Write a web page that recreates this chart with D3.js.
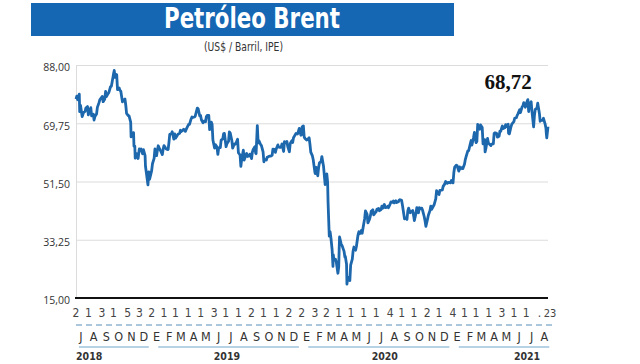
<!DOCTYPE html>
<html><head><meta charset="utf-8">
<script src="https://cdn.jsdelivr.net/npm/d3@7"></script>
<style>
html,body{margin:0;padding:0;background:#fff;}
svg{display:block;}
.cond{font-family:"Liberation Sans Narrow","DejaVu Sans Condensed","Roboto",sans-serif;font-stretch:condensed;}
</style></head>
<body><svg id="c" width="640" height="364"></svg>
<script>
// ---------- DATA ----------
const title = "Petróleo Brent";
const subtitle = "(US$ / Barril, IPE)";
const lastLabel = "68,72";
const yTicks = [15, 33.25, 51.5, 69.75, 88];
const monthLettersEs = ["E","F","M","A","M","J","J","A","S","O","N","D"];
const monthStartDates = [
 "2018-07-02","2018-08-01","2018-09-03","2018-10-01","2018-11-05","2018-12-03",
 "2019-01-02","2019-02-01","2019-03-01","2019-04-01","2019-05-01","2019-06-03",
 "2019-07-01","2019-08-01","2019-09-02","2019-10-01","2019-11-01","2019-12-02",
 "2020-01-02","2020-02-03","2020-03-02","2020-04-01","2020-05-01","2020-06-01",
 "2020-07-01","2020-08-04","2020-09-01","2020-10-01","2020-11-02","2020-12-01",
 "2021-01-04","2021-02-01","2021-03-01","2021-04-01","2021-05-03","2021-06-01",
 "2021-07-01","2021-08-02"];
const dayLabels = ["2","1","3","1","5","3","2","1","1","1","1","3","1","1","2","1","1","2",
 "2","3","2","1","1","1","1","4","1","1","2","1","4","1","1","1","3","1","1","."];
const endDayLabel = "23";
const years = ["2018","2019","2020","2021"];
const yearLabelDates = ["2018-07-02","2019-07-04","2020-07-22","2021-07-03"];
const yearLabelAnchors = ["start","middle","middle","middle"];

const dates = [
"2018-07-02","2018-07-04","2018-07-06","2018-07-10","2018-07-11","2018-07-13","2018-07-17","2018-07-19","2018-07-20","2018-07-24","2018-07-26","2018-07-30",
"2018-08-01","2018-08-03","2018-08-07","2018-08-09","2018-08-13","2018-08-15","2018-08-17","2018-08-21","2018-08-23","2018-08-27","2018-08-29","2018-08-31",
"2018-09-04","2018-09-06","2018-09-10","2018-09-12","2018-09-14","2018-09-18","2018-09-20","2018-09-24","2018-09-26","2018-09-28",
"2018-10-01","2018-10-03","2018-10-05","2018-10-09","2018-10-11","2018-10-15","2018-10-17","2018-10-19","2018-10-23","2018-10-25","2018-10-29","2018-10-31",
"2018-11-02","2018-11-06","2018-11-08","2018-11-12","2018-11-13","2018-11-15","2018-11-19","2018-11-20","2018-11-22","2018-11-23","2018-11-27","2018-11-29","2018-11-30",
"2018-12-03","2018-12-05","2018-12-07","2018-12-11","2018-12-13","2018-12-17","2018-12-18","2018-12-20","2018-12-24","2018-12-26","2018-12-28","2018-12-31",
"2019-01-02","2019-01-04","2019-01-08","2019-01-10","2019-01-14","2019-01-16","2019-01-18","2019-01-22","2019-01-24","2019-01-28","2019-01-30",
"2019-02-01","2019-02-05","2019-02-07","2019-02-11","2019-02-13","2019-02-15","2019-02-19","2019-02-21","2019-02-25","2019-02-27",
"2019-03-01","2019-03-05","2019-03-07","2019-03-11","2019-03-13","2019-03-15","2019-03-19","2019-03-21","2019-03-25","2019-03-27","2019-03-29",
"2019-04-02","2019-04-04","2019-04-08","2019-04-10","2019-04-12","2019-04-16","2019-04-18","2019-04-23","2019-04-25","2019-04-29",
"2019-05-01","2019-05-03","2019-05-07","2019-05-09","2019-05-13","2019-05-15","2019-05-17","2019-05-21","2019-05-23","2019-05-27","2019-05-29","2019-05-31",
"2019-06-04","2019-06-06","2019-06-10","2019-06-12","2019-06-14","2019-06-18","2019-06-20","2019-06-24","2019-06-26","2019-06-28",
"2019-07-02","2019-07-04","2019-07-08","2019-07-10","2019-07-12","2019-07-16","2019-07-18","2019-07-22","2019-07-24","2019-07-26","2019-07-30",
"2019-08-01","2019-08-05","2019-08-07","2019-08-09","2019-08-13","2019-08-15","2019-08-19","2019-08-21","2019-08-23","2019-08-27","2019-08-29",
"2019-09-02","2019-09-04","2019-09-06","2019-09-10","2019-09-12","2019-09-13","2019-09-16","2019-09-18","2019-09-20","2019-09-24","2019-09-26","2019-09-30",
"2019-10-02","2019-10-04","2019-10-08","2019-10-10","2019-10-14","2019-10-16","2019-10-18","2019-10-22","2019-10-24","2019-10-28","2019-10-30",
"2019-11-01","2019-11-05","2019-11-07","2019-11-11","2019-11-13","2019-11-15","2019-11-19","2019-11-21","2019-11-25","2019-11-27","2019-11-29",
"2019-12-03","2019-12-05","2019-12-09","2019-12-11","2019-12-13","2019-12-17","2019-12-19","2019-12-23","2019-12-27","2019-12-31",
"2020-01-02","2020-01-03","2020-01-06","2020-01-08","2020-01-10","2020-01-14","2020-01-16","2020-01-20","2020-01-22","2020-01-24","2020-01-28","2020-01-30",
"2020-02-03","2020-02-04","2020-02-06","2020-02-10","2020-02-12","2020-02-14","2020-02-18","2020-02-20","2020-02-24","2020-02-26","2020-02-28",
"2020-03-03","2020-03-05","2020-03-06","2020-03-09","2020-03-11","2020-03-13","2020-03-16","2020-03-18","2020-03-19","2020-03-20","2020-03-24","2020-03-26","2020-03-30",
"2020-04-01","2020-04-02","2020-04-03","2020-04-07","2020-04-09","2020-04-14","2020-04-16","2020-04-17","2020-04-20","2020-04-21","2020-04-22","2020-04-24","2020-04-28","2020-04-30",
"2020-05-04","2020-05-06","2020-05-08","2020-05-12","2020-05-14","2020-05-18","2020-05-20","2020-05-22","2020-05-26","2020-05-28",
"2020-06-01","2020-06-03","2020-06-05","2020-06-09","2020-06-11","2020-06-15","2020-06-17","2020-06-19","2020-06-23","2020-06-25","2020-06-29",
"2020-07-01","2020-07-03","2020-07-07","2020-07-09","2020-07-13","2020-07-15","2020-07-17","2020-07-21","2020-07-23","2020-07-27","2020-07-29","2020-07-31",
"2020-08-04","2020-08-06","2020-08-10","2020-08-12","2020-08-14","2020-08-18","2020-08-20","2020-08-24","2020-08-26","2020-08-28",
"2020-09-01","2020-09-03","2020-09-08","2020-09-10","2020-09-14","2020-09-16","2020-09-18","2020-09-22","2020-09-24","2020-09-28","2020-09-30",
"2020-10-02","2020-10-06","2020-10-08","2020-10-12","2020-10-14","2020-10-16","2020-10-20","2020-10-22","2020-10-26","2020-10-28","2020-10-30",
"2020-11-03","2020-11-05","2020-11-09","2020-11-11","2020-11-13","2020-11-17","2020-11-19","2020-11-23","2020-11-25","2020-11-27",
"2020-12-01","2020-12-03","2020-12-07","2020-12-09","2020-12-11","2020-12-15","2020-12-17","2020-12-21","2020-12-23","2020-12-29","2020-12-31",
"2021-01-04","2021-01-06","2021-01-08","2021-01-12","2021-01-14","2021-01-18","2021-01-20","2021-01-22","2021-01-26","2021-01-28",
"2021-02-01","2021-02-03","2021-02-05","2021-02-09","2021-02-11","2021-02-15","2021-02-17","2021-02-19","2021-02-23","2021-02-25",
"2021-03-01","2021-03-03","2021-03-05","2021-03-08","2021-03-10","2021-03-12","2021-03-16","2021-03-18","2021-03-22","2021-03-23","2021-03-25","2021-03-29","2021-03-31",
"2021-04-06","2021-04-08","2021-04-12","2021-04-14","2021-04-16","2021-04-20","2021-04-22","2021-04-26","2021-04-28","2021-04-30",
"2021-05-04","2021-05-06","2021-05-10","2021-05-12","2021-05-14","2021-05-18","2021-05-19","2021-05-21","2021-05-25","2021-05-27",
"2021-06-01","2021-06-03","2021-06-07","2021-06-09","2021-06-11","2021-06-15","2021-06-17","2021-06-21","2021-06-23","2021-06-25","2021-06-29",
"2021-07-01","2021-07-05","2021-07-07","2021-07-09","2021-07-13","2021-07-15","2021-07-19","2021-07-21","2021-07-23","2021-07-27","2021-07-29",
"2021-08-02","2021-08-04","2021-08-06","2021-08-10","2021-08-12","2021-08-16","2021-08-18","2021-08-19","2021-08-20","2021-08-23"];

const prices = [
77.30,78.24,77.11,78.86,73.40,75.33,71.84,72.58,73.07,73.44,74.54,74.97,
72.39,73.21,74.65,72.07,72.61,70.76,71.83,72.63,74.73,76.21,77.14,77.42,
78.17,76.50,77.37,79.74,78.09,79.03,79.40,81.20,81.34,82.72,
84.98,86.29,84.16,85.00,80.26,80.78,80.05,79.78,76.44,76.89,77.34,75.47,
72.83,72.13,72.07,70.12,65.47,66.62,66.79,62.53,62.60,58.80,60.21,59.51,58.71,
61.69,61.56,61.67,60.20,61.45,59.61,56.26,54.35,50.47,54.47,52.20,53.80,
54.91,57.06,58.72,61.68,59.59,61.32,62.70,61.50,61.09,59.93,61.65,
62.75,61.98,61.63,61.51,63.61,66.25,66.45,67.07,64.76,66.39,
65.07,65.86,66.30,66.58,67.55,67.16,67.61,67.86,67.21,67.83,68.39,
69.37,69.40,71.10,71.73,71.55,71.72,71.97,74.51,74.35,72.04,
72.18,70.85,69.88,70.39,70.23,71.77,72.21,72.18,67.76,70.11,69.45,64.49,
61.97,63.04,62.29,59.97,62.01,62.14,64.45,64.86,66.49,66.55,
62.40,63.30,64.11,67.01,66.72,64.35,61.93,63.26,63.18,63.46,64.72,
60.50,59.81,56.23,58.53,61.30,58.23,59.74,60.30,59.34,59.51,60.08,
58.66,60.70,61.54,62.38,60.38,60.22,69.02,63.60,64.28,63.10,62.74,60.78,
57.69,58.37,58.24,59.10,59.35,59.42,59.42,59.70,61.67,61.57,60.61,
61.69,62.96,62.29,62.18,62.37,63.30,60.91,63.97,63.65,64.06,62.43,
60.82,63.39,64.25,63.72,65.22,66.10,66.54,66.39,68.16,66.00,
66.25,68.60,68.91,65.44,64.98,64.49,64.62,65.20,63.21,60.69,59.51,58.29,
54.45,53.96,55.93,53.27,55.79,57.32,57.75,59.31,56.30,53.43,50.52,
53.86,51.29,45.27,34.36,35.79,33.85,30.05,24.88,28.47,26.98,27.15,26.34,22.76,
24.74,29.94,34.11,31.87,31.48,29.60,27.82,28.08,25.57,19.33,20.37,21.44,20.46,25.27,
27.20,29.72,30.97,29.98,31.13,34.81,35.75,35.13,36.17,35.29,
38.32,39.79,42.30,41.18,38.55,39.72,40.71,42.19,42.63,41.05,41.71,
42.03,42.80,43.08,42.35,42.72,43.79,43.14,44.32,43.31,43.41,43.75,43.30,
44.43,45.09,44.99,45.43,44.80,45.46,44.90,45.13,45.64,45.81,
45.58,44.07,39.78,40.06,39.61,42.22,43.15,41.72,41.94,42.43,40.95,
39.27,41.67,43.34,41.72,43.32,42.93,43.16,42.46,40.46,39.12,37.46,
39.71,40.93,42.40,43.80,42.78,43.75,44.20,46.06,48.61,48.18,
47.42,48.71,48.79,48.86,49.97,50.76,51.50,50.91,51.20,51.09,51.80,
51.09,54.30,55.99,56.58,56.42,54.75,56.08,55.41,55.91,55.53,
57.00,58.46,59.34,61.09,61.14,63.30,64.34,62.91,65.37,66.88,
63.69,64.07,69.36,68.24,67.90,69.22,68.39,63.28,64.62,60.79,61.95,64.98,63.54,
62.74,63.20,63.28,66.58,66.77,66.57,65.40,65.65,67.27,67.25,
68.88,68.09,68.32,69.32,68.71,69.46,66.66,66.44,68.65,69.46,
70.25,71.31,71.49,72.22,72.69,73.99,73.08,74.90,75.19,76.18,74.76,
75.84,77.16,73.43,75.55,76.49,73.47,68.62,72.23,74.10,74.48,76.05,
72.89,70.38,70.70,70.63,71.31,69.51,68.23,66.45,65.18,68.72];

const labelDate = "2021-05-18";
const labelValue = 80.6;

// ---------- DRAW ----------
const parse = d3.timeParse("%Y-%m-%d");
const series = dates.map((d,i)=>({date:parse(d), value:prices[i]}));
const W = 640, H = 364;
const m = {left:76, right:92, top:65, bottom:66};
const x = d3.scaleTime()
  .domain([parse(dates[0]), parse(dates[dates.length-1])])
  .range([m.left, W - m.right]);
const y = d3.scaleLinear().domain([15, 88]).range([H - m.bottom, m.top]);
const loc = d3.formatLocale({decimal:",", thousands:".", grouping:[3], currency:["$",""]});
const fmt = loc.format(".2f");

const svg = d3.select("#c");
svg.append("rect").attr("width",W).attr("height",H).attr("fill","#fff");

// title bar
svg.append("rect").attr("x",31).attr("y",3).attr("width",423).attr("height",33).attr("fill","#1566b3");
svg.append("text").attr("class","cond").attr("x",252).attr("y",28)
  .attr("text-anchor","middle").attr("fill","#fff").attr("font-weight","bold")
  .attr("font-size",28).attr("textLength",176).attr("lengthAdjust","spacingAndGlyphs").text(title);
svg.append("text").attr("class","cond").attr("x",243.5).attr("y",51)
  .attr("text-anchor","middle").attr("fill","#333").attr("font-size",12)
  .attr("textLength",79).attr("lengthAdjust","spacingAndGlyphs").text(subtitle);

// gridlines
const yAxis = d3.axisLeft(y).tickValues(yTicks).tickSize(-(W - m.right - m.left)).tickFormat(fmt).tickPadding(6);
const gy = svg.append("g").attr("transform",`translate(${m.left},0)`).call(yAxis);
gy.select(".domain").attr("stroke","#dcdcdc").attr("stroke-width",1);
gy.selectAll(".tick line").attr("stroke","#dcdcdc").attr("stroke-width",1.2);
gy.selectAll(".tick text").attr("fill","#333").attr("font-size",10.5)
  .attr("font-family","'Open Sans','Liberation Sans',sans-serif").attr("dy","0.55em");

// line
const line = d3.line().x(d=>x(d.date)).y(d=>y(d.value)).curve(d3.curveLinear);
svg.append("path").datum(series).attr("d",line).attr("fill","none")
  .attr("stroke","#1d67ad").attr("stroke-width",2.8).attr("stroke-linejoin","round");

// bottom axis line
svg.append("line").attr("x1",m.left-1).attr("x2",W-m.right).attr("y1",y(15)).attr("y2",y(15))
  .attr("stroke","#111").attr("stroke-width",2);

// day numbers
const g = svg.append("g").attr("class","cond");
g.selectAll("text.day").data(monthStartDates).join("text").attr("class","day")
  .attr("x",d=>x(parse(d))).attr("y",317).attr("text-anchor","middle")
  .attr("fill","#444").attr("font-size",12).text((d,i)=>dayLabels[i]);
g.append("text").attr("x",x(parse(dates[dates.length-1]))+2).attr("y",317).attr("text-anchor","middle")
  .attr("fill","#444").attr("font-size",11).text(endDayLabel);

// dashed row
svg.append("line").attr("x1",m.left).attr("x2",W-m.right+4).attr("y1",325).attr("y2",325)
  .attr("stroke","#8fb4cf").attr("stroke-width",1.5).attr("stroke-dasharray","6,4");

// month letters
g.selectAll("text.mon").data(monthStartDates).join("text").attr("class","mon")
  .attr("x",d=>{const p=parse(d); return x(new Date(p.getFullYear(), p.getMonth(), 14));})
  .attr("y",341).attr("text-anchor","middle").attr("fill","#333").attr("font-size",12.5)
  .text(d=>monthLettersEs[parse(d).getMonth()]);

// year underlines
const domainEnd = new Date(2021,7,31);
years.forEach((yr,i)=>{
  const s = d3.max([new Date(+yr,0,1), x.domain()[0]]);
  const e = d3.min([new Date(+yr,11,31), domainEnd]);
  svg.append("line").attr("x1",x(s)+(i===0?3:7)).attr("x2",x(e)-2).attr("y1",347).attr("y2",347)
    .attr("stroke","#9fc3dc").attr("stroke-width",1.6);
});

// year labels
g.selectAll("text.yr").data(years).join("text").attr("class","yr")
  .attr("x",(d,i)=>x(parse(yearLabelDates[i]))).attr("y",360)
  .attr("text-anchor",(d,i)=>yearLabelAnchors[i])
  .attr("fill","#333").attr("font-weight","bold").attr("font-size",10.5).text(d=>d);

// last value label
svg.append("text").attr("x",x(parse(labelDate))).attr("y",y(labelValue))
  .attr("text-anchor","middle").attr("font-family","'Liberation Serif','DejaVu Serif',serif")
  .attr("font-weight","bold").attr("font-size",21).attr("fill","#111").text(lastLabel);
</script></body></html>
